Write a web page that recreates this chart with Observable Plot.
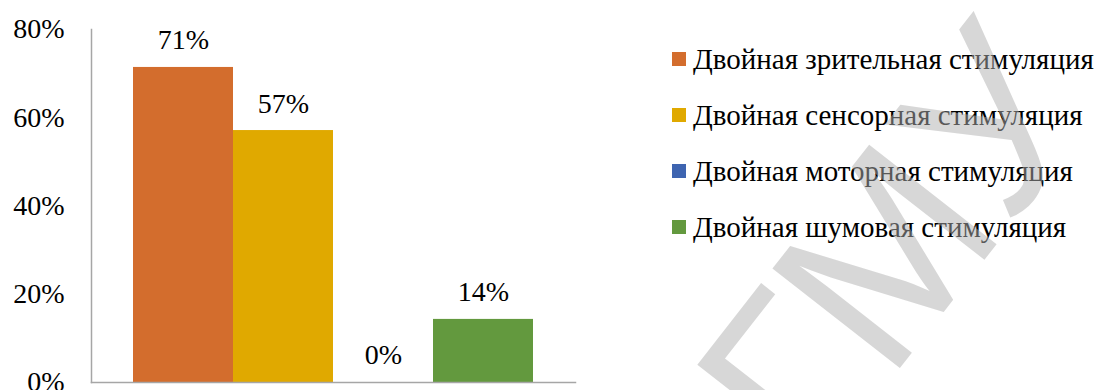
<!DOCTYPE html>
<html>
<head>
<meta charset="utf-8">
<script src="https://cdn.jsdelivr.net/npm/d3@7"></script>
<script src="https://cdn.jsdelivr.net/npm/@observablehq/plot@0.6"></script>
<style>
  html, body { margin: 0; padding: 0; background: #fff; overflow: hidden; }
  #wrap { position: relative; width: 1103px; height: 390px; font-family: "Liberation Serif", "Tinos", "Nimbus Roman", "Noto Serif", "DejaVu Serif", serif; }
  #legend { position: absolute; left: 672px; top: 0; }
  .item { position: absolute; left: 0; white-space: nowrap; display: flex; align-items: center; font-size: 29px; color: #000; }
  .sw { width: 14px; height: 14px; margin-right: 7px; flex: none; }
  #wm { position: absolute; left: 0; top: 0; pointer-events: none; }
</style>
</head>
<body>
<div id="wrap"></div>
<script>
const series = [
  "Двойная зрительная стимуляция",
  "Двойная сенсорная стимуляция",
  "Двойная моторная стимуляция",
  "Двойная шумовая стимуляция"
];
const values = [0.714, 0.571, 0, 0.143];
const valueLabels = ["71%", "57%", "0%", "14%"];
const colors = ["#D36D2D", "#E0A900", "#3E64B0", "#63993E"];
const yTicks = [0, 0.2, 0.4, 0.6, 0.8];
const watermark = "БГМУ";

const data = series.map((s, i) => ({series: s, value: values[i], label: valueLabels[i]}));

const font = "'Liberation Serif', 'Tinos', 'Nimbus Roman', 'Noto Serif', 'DejaVu Serif', serif";

const chart = Plot.plot({
  width: 1103,
  height: 390,
  marginLeft: 91,
  marginRight: 528,
  marginTop: 29,
  marginBottom: 8,
  style: {fontFamily: font, fontSize: "28px", color: "#000", background: "transparent", overflow: "visible"},
  x: {type: "band", domain: series, paddingInner: 0, paddingOuter: 0.4, axis: null},
  y: {domain: [0, 0.8], ticks: yTicks, tickFormat: d3.format(".0%"), tickSize: 0, tickPadding: 27, label: null},
  color: {domain: series, range: colors},
  marks: [
    Plot.barY(data, {x: "series", y: "value", fill: "series"}),
    Plot.text(data, {x: "series", y: "value", text: "label", dy: -27, fontSize: 28, fill: "#000"}),
    Plot.frame({anchor: "left", stroke: "#a6a6a6", strokeWidth: 1.5}),
    Plot.frame({anchor: "bottom", stroke: "#a6a6a6", strokeWidth: 1.5})
  ]
});

const wrap = document.getElementById("wrap");
wrap.appendChild(chart);

const legend = document.createElement("div");
legend.id = "legend";
const rowCenters = [59, 115, 171, 227];
series.forEach((s, i) => {
  const it = document.createElement("div");
  it.className = "item";
  it.style.top = (rowCenters[i] - 17) + "px";
  it.style.height = "34px";
  const sw = document.createElement("span");
  sw.className = "sw";
  sw.style.background = colors[i];
  const tx = document.createElement("span");
  tx.textContent = s;
  it.appendChild(sw);
  it.appendChild(tx);
  legend.appendChild(it);
});
wrap.appendChild(legend);

// watermark overlay
const ns = "http://www.w3.org/2000/svg";
const wm = document.createElementNS(ns, "svg");
wm.setAttribute("id", "wm");
wm.setAttribute("width", 1103);
wm.setAttribute("height", 390);
const t = document.createElementNS(ns, "text");
t.setAttribute("transform", "translate(845,306) rotate(-52)");
t.setAttribute("text-anchor", "middle");
t.setAttribute("dominant-baseline", "central");
t.setAttribute("font-family", "Liberation Sans, Arial, sans-serif");
t.setAttribute("font-size", "235");
t.setAttribute("fill", "rgb(175,175,175)");
t.setAttribute("fill-opacity", "0.5");
t.textContent = watermark;
wm.appendChild(t);
wrap.appendChild(wm);
</script>
</body>
</html>
